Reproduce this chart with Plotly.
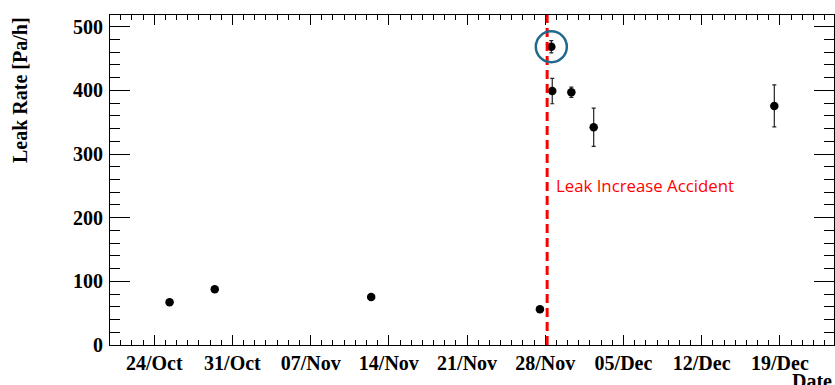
import plotly.graph_objects as go

# Leak-rate measurements (date/time of measurement, rate in Pa/h, uncertainty)
dates = [
    "2024-10-25 09:00", "2024-10-29 10:00", "2024-11-12 10:00",
    "2024-11-27 12:30", "2024-11-28 13:00", "2024-11-28 15:00",
    "2024-11-30 08:00", "2024-12-02 08:00", "2024-12-18 12:00",
]
rates = [67, 87.5, 75.5, 56, 468.5, 399, 397, 342, 375.5]
errors = [0, 0, 0, 0, 9.5, 20, 8, 30, 33]

# Time of the accident and the highlighted measurement
accident_date = "2024-11-28 04:00"
accident_label = "Leak Increase Accident"
highlight_index = 4

x_range = ["2024-10-20 01:00", "2024-12-23 20:12"]
y_range = [0, 518.4]

axis_font = dict(family="Liberation Serif", size=20, color="black", weight="bold")

fig = go.Figure()

fig.add_trace(go.Scatter(
    x=dates, y=rates, mode="markers",
    marker=dict(color="black", size=8.5),
    error_y=dict(type="data", array=errors, visible=True,
                 color="#222222", thickness=1.2, width=2),
    showlegend=False,
))

# Dashed vertical line marking the accident
fig.add_shape(type="line", xref="x", yref="paper",
              x0=accident_date, x1=accident_date, y0=0, y1=1,
              line=dict(color="#ff0000", width=3, dash="9px,5px"))

# Circle around the first post-accident measurement
fig.add_shape(type="circle", xref="x", yref="y",
              xsizemode="pixel", ysizemode="pixel",
              xanchor=dates[highlight_index], yanchor=rates[highlight_index],
              x0=-15.5, x1=15.5, y0=-15.5, y1=15.5,
              line=dict(color="#1f6a8c", width=2.5))

fig.add_annotation(x=accident_date, y=251, xref="x", yref="y",
                   text=accident_label, showarrow=False,
                   xanchor="left", yanchor="middle", xshift=7,
                   font=dict(family="Open Sans", size=16.8, color="#ff0000"))

# Axis titles placed at the ends of the axes
fig.add_annotation(x=0, y=1, xref="paper", yref="paper",
                   text="Leak Rate [Pa/h]", textangle=-90, showarrow=False,
                   xanchor="center", yanchor="top", xshift=-90,
                   font=axis_font)
fig.add_annotation(x=1, y=0, xref="paper", yref="paper",
                   text="Date", showarrow=False,
                   xanchor="right", yanchor="top", yshift=-23,
                   font=axis_font)

fig.update_xaxes(
    type="date", range=x_range,
    tick0="2024-10-24", dtick=7 * 86400000, tickformat="%d/%b",
    ticks="inside", ticklen=10, tickwidth=1, tickcolor="black",
    minor=dict(dtick=86400000, ticks="inside", ticklen=5,
               tickwidth=1, tickcolor="black", showgrid=False),
    showline=True, linecolor="black", linewidth=1, mirror="allticks",
    showgrid=False, zeroline=False, tickfont=axis_font,
)
fig.update_yaxes(
    range=y_range, tick0=0, dtick=100,
    ticks="inside", ticklen=20, tickwidth=1, tickcolor="black",
    minor=dict(dtick=20, ticks="inside", ticklen=10,
               tickwidth=1, tickcolor="black", showgrid=False),
    showline=True, linecolor="black", linewidth=1, mirror="allticks",
    showgrid=False, zeroline=False, tickfont=axis_font,
    ticklabelstandoff=2,
)

fig.update_layout(
    width=835, height=385,
    margin=dict(l=110, r=1, t=15, b=40),
    paper_bgcolor="white", plot_bgcolor="white",
    showlegend=False,
)

fig.write_html("out.html")
